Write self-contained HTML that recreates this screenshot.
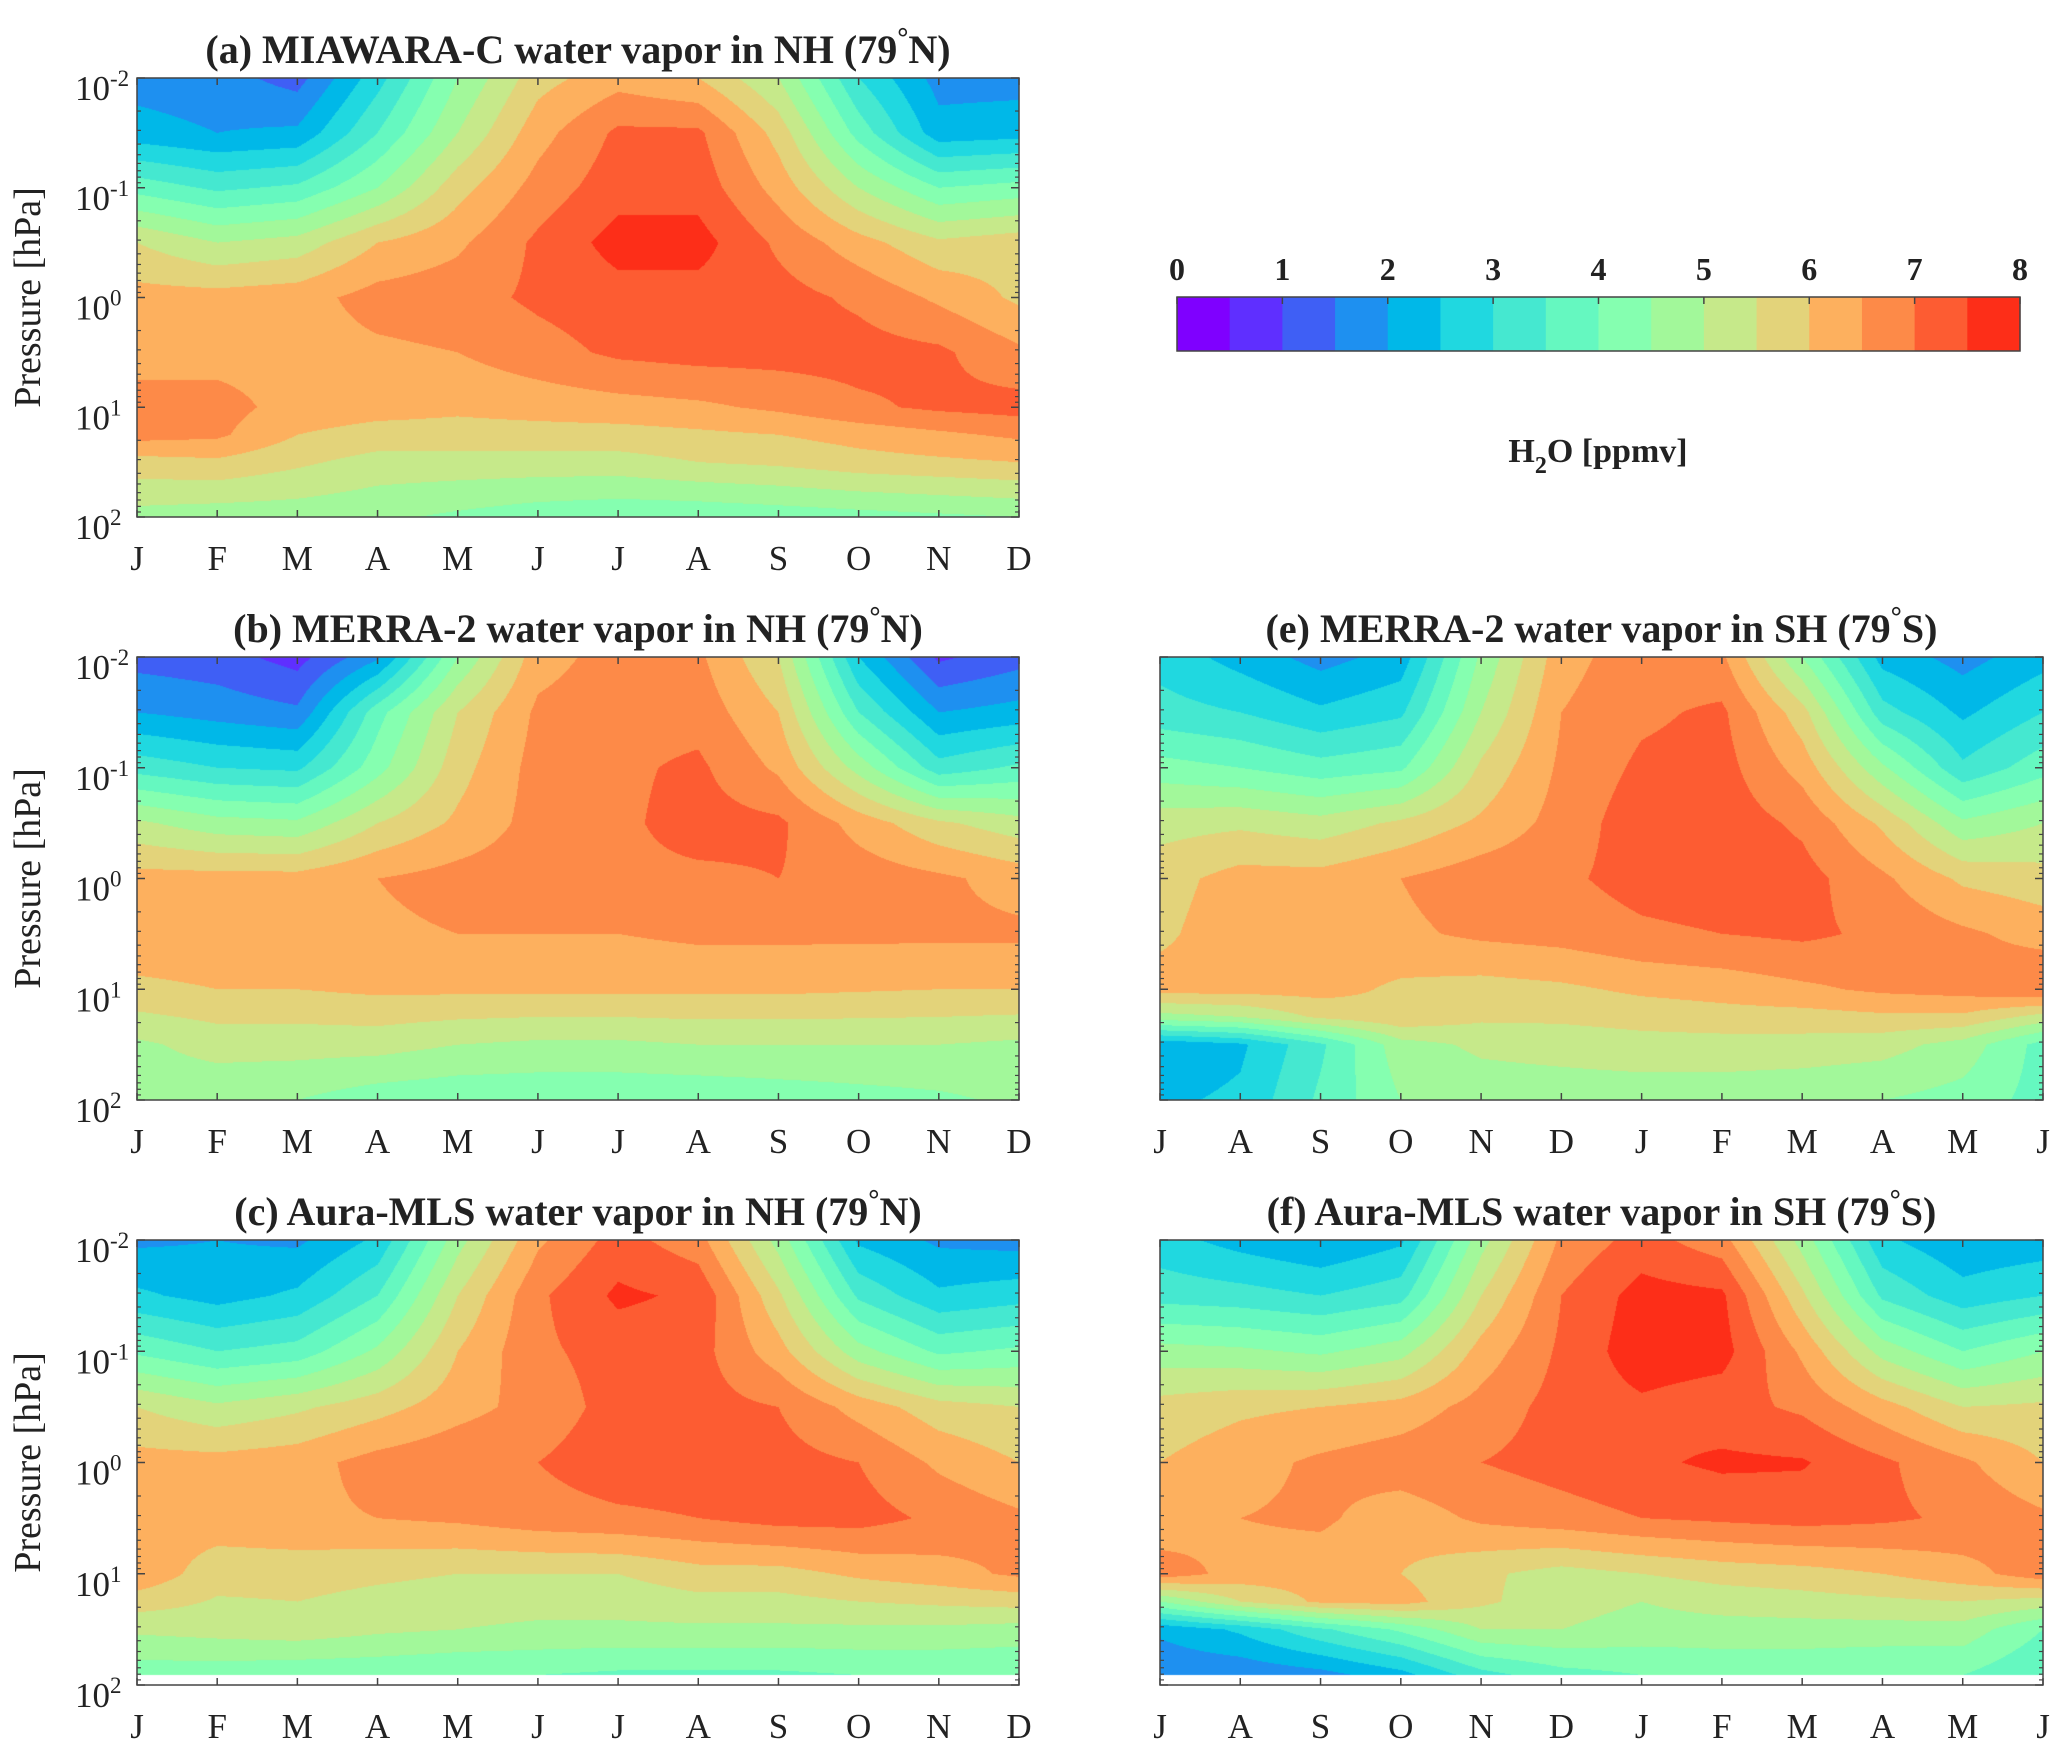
<!DOCTYPE html>
<html><head><meta charset="utf-8">
<style>
html,body{margin:0;padding:0;background:#fff;}
#root{position:relative;width:2067px;height:1753px;overflow:hidden;background:#fff;}
canvas{position:absolute;}
svg{position:absolute;left:0;top:0;}
text{font-family:"Liberation Serif",serif;fill:#222;}
</style></head>
<body>
<div id="root">
<canvas id="cv-a"></canvas>
<canvas id="cv-b"></canvas>
<canvas id="cv-c"></canvas>
<canvas id="cv-e"></canvas>
<canvas id="cv-f"></canvas>
<svg id="ov" width="2067" height="1753"></svg>
</div>
<script>
// ---- data ----
const levelColors = ["#7f00ff","#5f2fff","#3f5ff5","#1e90f0","#00b8e8","#20d8e0","#45e8d0","#65f8c0","#85ffb0","#a2f89a","#c6e98a","#e3d37a","#fdb05e","#fd8a48","#fd5c32","#fd2e18"];
const cbTicks = [0,1,2,3,4,5,6,7,8];
const monthsNH = ["J","F","M","A","M","J","J","A","S","O","N","D"];
const monthsSH = ["J","A","S","O","N","D","J","F","M","A","M","J"];
const yTickExp = [-2,-1,0,1,2];

const rowsA = [-2,-1.5,-1,-0.5,0,0.5,1,1.25,1.5,2];
const valsA = [
 [1.8,1.7,1.3,2.8,4.5,5.8,6.3,6.0,5.0,3.0,1.8,1.8],
 [2.2,2.0,2.1,3.5,5.0,6.3,7.1,7.1,5.8,3.8,2.2,2.3],
 [3.8,3.4,3.6,4.5,5.8,6.7,7.3,7.3,6.3,5.0,4.0,4.2],
 [5.5,5.0,5.2,6.0,6.4,7.1,7.7,7.7,6.9,6.2,5.6,5.8],
 [6.2,6.2,6.3,6.7,6.8,7.1,7.3,7.3,7.2,6.9,6.4,5.9],
 [6.3,6.3,6.3,6.4,6.5,6.8,7.1,7.2,7.2,7.2,7.1,6.6],
 [6.7,6.7,6.3,6.2,6.1,6.2,6.3,6.4,6.6,6.9,7.1,7.2],
 [6.7,6.6,6.0,5.8,5.8,5.8,5.8,5.9,6.0,6.2,6.4,6.6],
 [5.8,5.9,5.6,5.3,5.3,5.3,5.3,5.5,5.6,5.8,5.9,6.0],
 [4.8,4.7,4.7,4.6,4.4,4.2,4.1,4.1,4.2,4.3,4.4,4.5]];

const rowsB = [-2,-1.5,-1,-0.5,0,0.5,1,1.5,2];
const valsB = [
 [1.3,1.2,0.8,1.9,4.5,6.3,6.7,6.6,5.5,2.5,0.9,1.3],
 [2.0,1.8,1.6,3.8,5.5,6.6,6.8,6.8,6.0,3.5,2.0,2.2],
 [3.3,3.0,2.9,4.3,5.8,6.7,6.9,7.1,6.4,4.8,3.2,3.6],
 [5.1,4.7,4.6,5.5,6.1,6.7,6.9,7.2,7.1,6.3,5.6,5.2],
 [6.2,6.2,6.2,6.5,6.7,6.8,6.9,6.9,7.0,6.8,6.6,6.3],
 [6.3,6.3,6.3,6.4,6.5,6.5,6.5,6.6,6.6,6.6,6.6,6.6],
 [5.9,6.0,6.0,6.1,6.1,6.1,6.1,6.1,6.1,6.05,6.0,6.0],
 [4.9,5.2,5.2,5.2,5.0,4.9,4.9,5.0,5.0,5.0,5.0,4.9],
 [4.7,4.6,4.5,4.2,4.1,4.1,4.1,4.1,4.2,4.3,4.4,4.6]];

const rowsC = [-2,-1.5,-1,-0.5,0,0.5,1,1.5,1.91];
const valsC = [
 [1.9,2.0,1.9,2.6,4.8,6.4,7.2,6.7,4.8,2.4,1.9,1.8],
 [2.6,2.3,2.6,3.5,5.5,6.9,7.6,7.4,5.6,3.4,2.6,2.8],
 [3.9,3.5,3.7,4.6,6.0,6.9,7.2,7.2,6.2,4.7,3.9,4.1],
 [5.5,5.1,5.4,5.8,6.3,6.7,7.2,7.2,7.0,6.3,5.7,5.5],
 [6.2,6.2,6.3,6.7,6.9,7.0,7.3,7.3,7.2,7.0,6.4,6.0],
 [6.2,6.3,6.4,6.5,6.6,6.8,6.9,7.0,7.2,7.2,6.9,6.6],
 [6.4,5.7,5.7,5.6,5.5,5.5,5.5,5.8,5.8,6.1,6.3,6.6],
 [5.1,5.2,5.3,5.1,5.0,4.9,4.9,4.9,4.9,4.9,4.9,4.8],
 [4.2,4.2,4.1,4.1,4.0,4.0,3.9,3.9,3.9,4.0,4.0,4.0]];

const rowsE = [-2,-1.5,-1,-0.5,0,0.5,1,1.25,1.5,2];
const valsE = [
 [2.8,2.3,1.8,2.2,4.6,6.3,6.8,6.6,4.5,2.3,1.8,2.3],
 [3.2,3.0,2.6,2.9,5.0,6.5,6.9,7.1,5.7,3.2,2.4,3.0],
 [4.2,4.0,3.7,3.9,5.6,6.6,7.1,7.2,6.3,4.6,3.1,3.8],
 [5.3,5.4,5.2,5.6,6.1,6.7,7.3,7.3,6.9,5.9,4.6,5.0],
 [5.8,6.2,6.2,6.5,6.8,6.9,7.2,7.3,7.2,6.6,5.9,5.7],
 [5.9,6.3,6.3,6.4,6.6,6.7,6.9,7.0,7.1,6.9,6.6,6.3],
 [6.2,6.2,6.2,5.9,5.8,5.9,6.1,6.2,6.4,6.6,6.7,7.0],
 [4.8,5.0,5.6,5.9,5.6,5.6,5.7,5.8,5.8,5.9,5.9,5.3],
 [2.1,2.4,3.4,4.8,5.1,5.2,5.3,5.3,5.3,5.2,4.8,3.8],
 [2.4,2.6,3.6,4.5,4.7,4.7,4.7,4.7,4.6,4.5,4.3,3.8]];

const rowsF = [-2,-1.5,-1,-0.5,0,0.5,1,1.25,1.5,1.91];
const valsF = [
 [2.7,2.3,2.0,2.4,4.8,6.6,7.2,6.7,4.8,2.6,2.1,2.2],
 [3.3,3.2,3.0,3.3,5.5,7.0,7.7,7.6,5.6,3.4,2.7,3.0],
 [4.7,4.6,4.4,4.8,6.2,7.1,7.8,7.7,6.4,4.8,4.0,4.5],
 [5.7,5.9,6.0,6.2,6.7,7.2,7.4,7.2,6.9,6.2,5.5,5.6],
 [6.0,6.3,6.6,6.8,7.0,7.2,7.4,7.6,7.55,7.1,6.6,6.0],
 [6.1,6.5,6.6,6.2,6.6,6.8,7.0,7.1,7.2,7.1,6.9,6.6],
 [6.8,6.3,6.2,6.0,5.6,5.3,5.5,5.7,5.8,6.0,6.3,6.8],
 [4.5,5.5,6.1,6.2,5.6,5.2,5.0,5.2,5.3,5.4,5.5,5.3],
 [2.1,2.6,3.4,4.1,5.0,5.0,4.8,4.8,4.8,4.8,4.8,4.0],
 [1.6,1.6,1.8,2.3,3.3,3.8,4.0,4.1,4.1,4.0,4.0,3.5]];

// ---- layout ----
const panels = [
 {id:"a",x:137,y:78,w:882,h:439,rows:rowsA,vals:valsA,months:monthsNH,title:"(a) MIAWARA-C water vapor in NH (79",hem:"N",ylab:true},
 {id:"b",x:137,y:657,w:882,h:443,rows:rowsB,vals:valsB,months:monthsNH,title:"(b) MERRA-2 water vapor in NH (79",hem:"N",ylab:true},
 {id:"c",x:137,y:1240,w:882,h:445,rows:rowsC,vals:valsC,months:monthsNH,title:"(c) Aura-MLS water vapor in NH (79",hem:"N",ylab:true},
 {id:"e",x:1160,y:657,w:883,h:443,rows:rowsE,vals:valsE,months:monthsSH,title:"(e) MERRA-2 water vapor in SH (79",hem:"S",ylab:false},
 {id:"f",x:1160,y:1240,w:883,h:445,rows:rowsF,vals:valsF,months:monthsSH,title:"(f) Aura-MLS water vapor in SH (79",hem:"S",ylab:false}
];
const NS="http://www.w3.org/2000/svg";
const ov=document.getElementById("ov");
function mk(tag,attrs,parent){const e=document.createElementNS(NS,tag);for(const k in attrs)e.setAttribute(k,attrs[k]);(parent||ov).appendChild(e);return e;}
function hex(c){return [parseInt(c.substr(1,2),16),parseInt(c.substr(3,2),16),parseInt(c.substr(5,2),16)];}
const rgb=levelColors.map(hex);

function valueAt(p,m,lp){
  const rows=p.rows;
  if(lp>rows[rows.length-1]) return null;
  let i=0; while(i<rows.length-2 && lp>rows[i+1]) i++;
  const t=Math.max(0,Math.min(1,(lp-rows[i])/(rows[i+1]-rows[i])));
  const j=Math.min(10,Math.floor(m)); const s=m-j;
  const v0=p.vals[i][j]*(1-s)+p.vals[i][j+1]*s;
  const v1=p.vals[i+1][j]*(1-s)+p.vals[i+1][j+1]*s;
  return v0*(1-t)+v1*t;
}
function xScale(p,m){return p.x+p.w*m/11;}
function yScale(p,lp){return p.y+p.h*(lp+2)/4;}

panels.forEach(p=>{
  const cv=document.getElementById("cv-"+p.id);
  cv.width=p.w; cv.height=p.h; cv.style.left=p.x+"px"; cv.style.top=p.y+"px";
  const ctx=cv.getContext("2d"); const img=ctx.createImageData(p.w,p.h);
  for(let py=0;py<p.h;py++){
    const lp=-2+4*(py+0.5)/p.h;
    for(let px=0;px<p.w;px++){
      const v=valueAt(p,11*(px+0.5)/p.w,lp);
      const k=(py*p.w+px)*4;
      if(v===null){img.data[k]=255;img.data[k+1]=255;img.data[k+2]=255;img.data[k+3]=255;continue;}
      let b=Math.floor(v/0.5); b=Math.max(0,Math.min(15,b));
      img.data[k]=rgb[b][0];img.data[k+1]=rgb[b][1];img.data[k+2]=rgb[b][2];img.data[k+3]=255;
    }
  }
  ctx.putImageData(img,0,0);

  const g=mk("g",{});
  
  
  const fr=mk("rect",{x:p.x,y:p.y,width:p.w,height:p.h,fill:"none",stroke:"#444","stroke-width":1.5},g);
  
  
  p.months.forEach((lab,i)=>{
    const x=xScale(p,i);
    mk("line",{x1:x,y1:p.y+p.h,x2:x,y2:p.y+p.h-7,stroke:"#444","stroke-width":1.5},g);
    mk("line",{x1:x,y1:p.y,x2:x,y2:p.y+7,stroke:"#444","stroke-width":1.5},g);
    const t=mk("text",{x:x,y:p.y+p.h+53,"text-anchor":"middle","font-size":35},g);
    t.textContent=lab;
    
    
  });
  for(let d=-2;d<2;d++){
    for(let k=2;k<=9;k++){
      const y=yScale(p,d+Math.log10(k));
      mk("line",{x1:p.x,y1:y,x2:p.x+4,y2:y,stroke:"#444","stroke-width":1.2},g);
      mk("line",{x1:p.x+p.w,y1:y,x2:p.x+p.w-4,y2:y,stroke:"#444","stroke-width":1.2},g);
    }
  }
  yTickExp.forEach(e=>{
    const y=yScale(p,e);
    mk("line",{x1:p.x,y1:y,x2:p.x+8,y2:y,stroke:"#444","stroke-width":1.5},g);
    mk("line",{x1:p.x+p.w,y1:y,x2:p.x+p.w-8,y2:y,stroke:"#444","stroke-width":1.5},g);
    if(p.ylab){
      const t=mk("text",{x:110,y:y+22,"text-anchor":"end","font-size":35},g);
      t.textContent="10";
      
      
      const s=mk("text",{x:110,y:y+8,"text-anchor":"start","font-size":23},g);
      s.textContent=String(e);
      
      
    }
  });
  if(p.ylab){
    const cy=p.y+p.h/2;
    const t=mk("text",{x:0,y:0,transform:"translate(40,"+cy+") rotate(-90)","text-anchor":"middle","font-size":38},g);
    t.textContent="Pressure [hPa]";
    
    
  }
  const tt=mk("text",{x:p.x+p.w/2,y:p.y-15,"text-anchor":"middle","font-size":40,"font-weight":"bold"},g);
  
  
  tt.appendChild(document.createTextNode(p.title));
  const deg=mk("tspan",{dy:-16,"font-size":28},tt); deg.textContent="°";
  const h=mk("tspan",{dy:16},tt); h.textContent=p.hem+")";
});

// ---- colorbar ----
const cb={x:1177,y:297,w:843,h:54};
const cg=mk("g",{});


levelColors.forEach((c,i)=>{
  const r=mk("rect",{x:cb.x+cb.w*i/16,y:cb.y,width:cb.w/16+0.6,height:cb.h,fill:c},cg);
  
  
});
mk("rect",{x:cb.x,y:cb.y,width:cb.w,height:cb.h,fill:"none",stroke:"#444","stroke-width":1.5},cg);
cbTicks.forEach(v=>{
  const x=cb.x+cb.w*v/8;
  mk("line",{x1:x,y1:cb.y,x2:x,y2:cb.y+7,stroke:"#444","stroke-width":1.5},cg);
  const t=mk("text",{x:x,y:cb.y-17,"text-anchor":"middle","font-size":32,"font-weight":"bold"},cg);
  t.textContent=String(v);
  
  
});
const cl=mk("text",{x:1598,y:462,"text-anchor":"middle","font-size":34,"font-weight":"bold"},cg);


cl.appendChild(document.createTextNode("H"));
const sub=mk("tspan",{dy:11,"font-size":24},cl); sub.textContent="2";
const rest=mk("tspan",{dy:-11},cl); rest.textContent="O [ppmv]";
</script>
</body></html>
